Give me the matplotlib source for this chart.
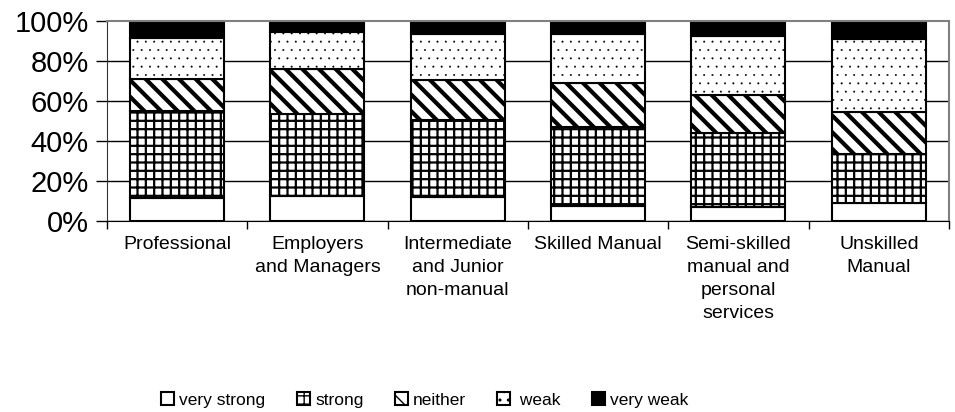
import numpy as np
import matplotlib.pyplot as plt
from matplotlib.ticker import PercentFormatter

plt.rcParams['font.family'] = ['Liberation Sans', 'DejaVu Sans']

groups = ['Professional', 'Employers\nand Managers', 'Intermediate\nand Junior\nnon-manual',
          'Skilled Manual', 'Semi-skilled\nmanual and\npersonal\nservices', 'Unskilled\nManual']
very_strong = [11.5, 12.5, 12.0, 7.5, 7.0, 9.0]
strong = [43.5, 41.0, 38.5, 39.5, 37.0, 24.5]
neither = [16.0, 22.5, 20.0, 22.0, 19.0, 21.0]
weak = [20.5, 18.5, 23.0, 24.5, 29.5, 36.5]
very_weak = [8.5, 5.5, 6.5, 6.5, 7.5, 9.0]

# label, values, face colour, hatch, hatch linewidth
series = [
    ('very strong', very_strong, 'white', None, 1.0),
    ('strong', strong, 'white', '++', 1.6),
    ('neither', neither, 'white', '\\\\', 3.0),
    (' weak', weak, 'white', '..', 0.2),
    ('very weak', very_weak, 'black', None, 1.0),
]

fig = plt.figure(figsize=(9.55, 4.12), dpi=100)
ax = fig.add_axes([0.112, 0.4636, 0.8817, 0.4854])

x = np.arange(len(groups))
bottom = np.zeros(len(groups))
for label, vals, fc, hatch, hlw in series:
    bars = ax.bar(x, vals, 0.67, bottom=bottom, color=fc, edgecolor='black',
                  hatch=hatch, linewidth=1.5, label=label, zorder=2)
    for b in bars:
        if hasattr(b, 'set_hatch_linewidth'):
            b.set_hatch_linewidth(hlw)
    bottom += np.array(vals)

ax.set_xlim(-0.5, len(groups) - 0.5)
ax.set_ylim(0, 100)

ax.set_xticks(np.arange(len(groups) + 1) - 0.5)
ax.set_xticklabels([])
ax.set_xticks(x, minor=True)
ax.set_xticklabels(groups, minor=True, fontsize=14, linespacing=1.45)
ax.tick_params(axis='x', which='major', length=6, width=1, color='black')
ax.tick_params(axis='x', which='minor', length=0, pad=11)

ax.set_yticks(np.arange(0, 101, 20))
ax.yaxis.set_major_formatter(PercentFormatter(decimals=0))
ax.tick_params(axis='y', length=8, width=1, labelsize=21, pad=5)

ax.yaxis.grid(True, color='black', linewidth=1)
ax.yaxis.get_gridlines()[-1].set_visible(False)
ax.set_axisbelow(True)

for s in ['top', 'right']:
    ax.spines[s].set_color('#808080')
    ax.spines[s].set_linewidth(1.5)
ax.spines['left'].set_color('#333333')
ax.spines['bottom'].set_color('black')

handles, labels = ax.get_legend_handles_labels()
fig.legend(handles, labels, loc='center', bbox_to_anchor=(0.445, 0.029), ncol=5,
           frameon=False, fontsize=12.5, handlelength=0.75, handleheight=0.75,
           handletextpad=0.3, columnspacing=1.8)

fig.savefig('out.png', dpi=100)
